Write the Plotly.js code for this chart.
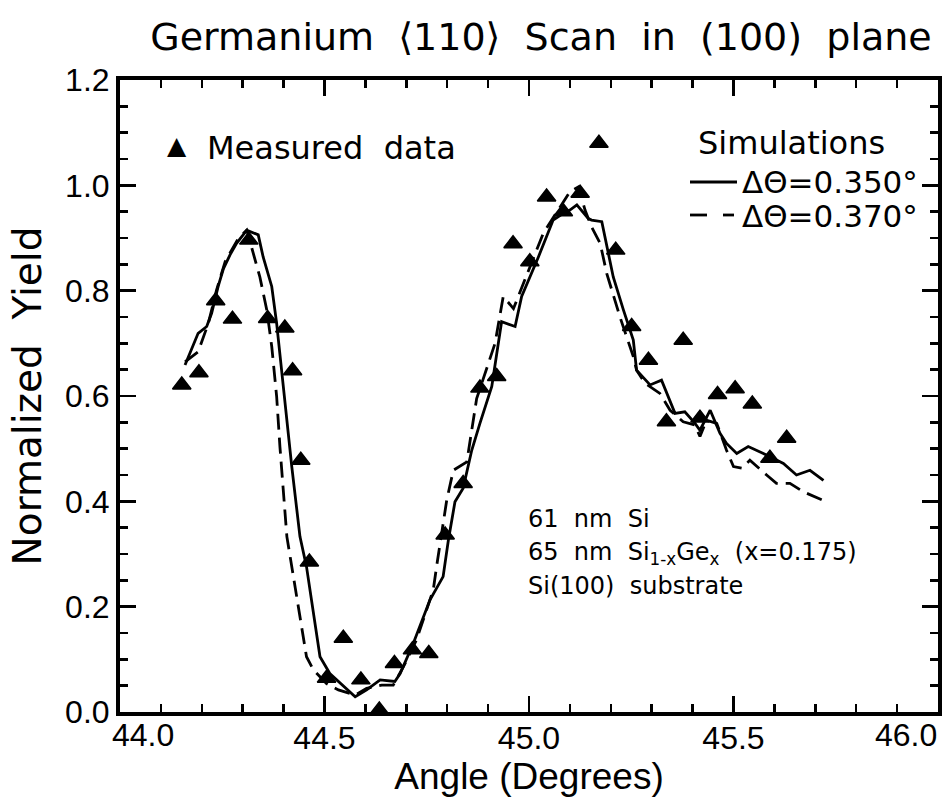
<!DOCTYPE html>
<html>
<head>
<meta charset="utf-8">
<script src="https://cdn.plot.ly/plotly-3.0.1.min.js"></script>
<style>
  html, body { margin: 0; padding: 0; background: #fff; }
  #chart { width: 948px; height: 798px; }
</style>
</head>
<body>
<div id="chart"></div>
<script>
// Measured channeling yield, Ge <110> scan in the (100) plane
const measAngle = [44.151, 44.193, 44.234, 44.275, 44.315, 44.361, 44.403, 44.422, 44.442, 44.463,
                   44.505, 44.546, 44.589, 44.634, 44.671, 44.715, 44.755, 44.795, 44.839, 44.880,
                   44.921, 44.961, 45.002, 45.043, 45.084, 45.125, 45.171, 45.212, 45.251, 45.292,
                   45.336, 45.377, 45.418, 45.461, 45.504, 45.546, 45.589, 45.630];
const measYield = [0.621, 0.644, 0.781, 0.746, 0.896, 0.747, 0.729, 0.648, 0.478, 0.285,
                   0.064, 0.140, 0.061, 0.004, 0.092, 0.118, 0.111, 0.336, 0.434, 0.615,
                   0.637, 0.889, 0.855, 0.978, 0.950, 0.985, 1.080, 0.877, 0.732, 0.668,
                   0.551, 0.706, 0.558, 0.603, 0.614, 0.585, 0.482, 0.520];

// Simulation, delta theta = 0.350 deg (solid)
const sim350Angle = [44.159, 44.191, 44.212, 44.224, 44.240, 44.253, 44.269, 44.285, 44.310, 44.338,
                     44.350, 44.371, 44.383, 44.395, 44.408, 44.420, 44.440, 44.456, 44.489, 44.513,
                     44.575, 44.603, 44.636, 44.672, 44.685, 44.717, 44.758, 44.790, 44.803, 44.819,
                     44.839, 44.860, 44.880, 44.909, 44.933, 44.966, 44.982, 45.023, 45.059, 45.084,
                     45.100, 45.117, 45.145, 45.153, 45.178, 45.190, 45.206, 45.231, 45.255, 45.263,
                     45.296, 45.324, 45.357, 45.381, 45.406, 45.418, 45.443, 45.467, 45.483, 45.508,
                     45.536, 45.573, 45.622, 45.654, 45.687, 45.720];
const sim350Yield = [0.659, 0.719, 0.732, 0.757, 0.808, 0.842, 0.868, 0.890, 0.915, 0.906,
                     0.864, 0.808, 0.738, 0.650, 0.561, 0.466, 0.333, 0.276, 0.105, 0.073,
                     0.029, 0.042, 0.061, 0.058, 0.073, 0.130, 0.213, 0.257, 0.327, 0.399,
                     0.425, 0.497, 0.548, 0.618, 0.741, 0.732, 0.789, 0.864, 0.934, 0.947,
                     0.953, 0.963, 0.937, 0.934, 0.931, 0.883, 0.826, 0.763, 0.706, 0.649,
                     0.621, 0.630, 0.567, 0.570, 0.548, 0.535, 0.573, 0.529, 0.510, 0.491,
                     0.504, 0.491, 0.472, 0.450, 0.459, 0.440];

// Simulation, delta theta = 0.370 deg (dashed)
const sim370Angle = [44.159, 44.191, 44.216, 44.236, 44.257, 44.269, 44.289, 44.310, 44.326, 44.342,
                     44.359, 44.371, 44.383, 44.391, 44.408, 44.440, 44.456, 44.473, 44.505, 44.534,
                     44.575, 44.603, 44.640, 44.668, 44.693, 44.725, 44.766, 44.774, 44.799, 44.815,
                     44.848, 44.872, 44.917, 44.937, 44.962, 45.035, 45.076, 45.100, 45.121, 45.137,
                     45.153, 45.174, 45.190, 45.222, 45.255, 45.263, 45.284, 45.320, 45.345, 45.377,
                     45.406, 45.418, 45.434, 45.459, 45.483, 45.500, 45.520, 45.540, 45.581, 45.605,
                     45.638, 45.671, 45.716];
const sim370Yield = [0.665, 0.684, 0.738, 0.801, 0.855, 0.871, 0.899, 0.915, 0.871, 0.826,
                     0.763, 0.694, 0.599, 0.504, 0.333, 0.175, 0.105, 0.080, 0.054, 0.042,
                     0.032, 0.045, 0.051, 0.051, 0.086, 0.137, 0.232, 0.276, 0.403, 0.459,
                     0.475, 0.595, 0.700, 0.789, 0.766, 0.909, 0.960, 0.988, 0.997, 0.953,
                     0.921, 0.890, 0.833, 0.751, 0.675, 0.649, 0.624, 0.605, 0.573, 0.551,
                     0.545, 0.523, 0.554, 0.548, 0.497, 0.466, 0.463, 0.478, 0.450, 0.434,
                     0.434, 0.418, 0.403];

// inner x labels come from the axis; the two end labels sit just inside the frame
const xTickVals = [44.5, 45.0, 45.5];
const xTickText = ['44.5', '45.0', '45.5'];
const xEdgeVals = [44.0, 46.0];
const xEdgeLabels = ['44.0', '46.0'];

const titleText = 'Germanium\u00a0\u00a0\u27e8110\u27e9\u00a0\u00a0Scan\u00a0\u00a0in\u00a0\u00a0(100)\u00a0\u00a0plane';
const legendMeasured = 'Measured\u00a0\u00a0data';
const legendSimTitle = 'Simulations';
const legendSim350 = '\u0394\u0398=0.350\u00b0';
const legendSim370 = '\u0394\u0398=0.370\u00b0';
const sampleLines = [
  '61\u00a0\u00a0nm\u00a0\u00a0Si',
  '65\u00a0\u00a0nm\u00a0\u00a0Si<sub>1-x</sub>Ge<sub>x</sub>\u00a0\u00a0(x=0.175)',
  'Si(100)\u00a0\u00a0substrate'
];

// plot-area geometry (px) used for placing the key and notes
const M = {l: 120, r: 10, t: 80, b: 86};
const W = 948, H = 798;
const PW = W - M.l - M.r, PH = H - M.t - M.b;
const px = v => (v - M.l) / PW;          // page x -> paper x
const py = v => (H - M.b - v) / PH;      // page y -> paper y

const GEO = 'DejaVu Sans';
const HEL = 'Liberation Sans';
const LW = 2.8;

const traces = [
  {
    x: sim370Angle, y: sim370Yield, type: 'scatter', mode: 'lines',
    line: {color: '#000', width: LW, dash: '16px,8px'}, hoverinfo: 'skip'
  },
  {
    x: sim350Angle, y: sim350Yield, type: 'scatter', mode: 'lines',
    line: {color: '#000', width: LW}, hoverinfo: 'skip'
  },
  {
    x: measAngle, y: measYield, type: 'scatter', mode: 'markers',
    marker: {symbol: 'triangle-up', size: 16, color: '#000', line: {color: '#000', width: 1.5}}
  }
];

const axisCommon = {
  showline: true, linecolor: '#000', linewidth: 4, mirror: 'ticks',
  ticks: 'inside', ticklen: 16, tickwidth: 2.5, tickcolor: '#000',
  showgrid: false, zeroline: false,
  tickfont: {family: HEL, size: 32, color: '#000'}
};

const annotations = [
  {xref: 'x', yref: 'paper', x: xEdgeVals[0], y: 0, xshift: 23, yshift: -3,
   xanchor: 'center', yanchor: 'top', showarrow: false, text: xEdgeLabels[0],
   font: {family: HEL, size: 32, color: '#000'}},
  {xref: 'x', yref: 'paper', x: xEdgeVals[1], y: 0, xshift: -32, yshift: -3,
   xanchor: 'center', yanchor: 'top', showarrow: false, text: xEdgeLabels[1],
   font: {family: HEL, size: 32, color: '#000'}},
  // key for the measured points
  {xref: 'paper', yref: 'paper', x: px(177), y: py(145), xanchor: 'center', yanchor: 'middle',
   showarrow: false, text: '\u25b2', font: {family: GEO, size: 25, color: '#000'}},
  {xref: 'paper', yref: 'paper', x: px(205), y: py(148), xanchor: 'left', yanchor: 'middle',
   showarrow: false, text: legendMeasured, font: {family: GEO, size: 32, color: '#000'}},
  // key for the simulations
  {xref: 'paper', yref: 'paper', x: px(696), y: py(143), xanchor: 'left', yanchor: 'middle',
   showarrow: false, text: legendSimTitle, font: {family: GEO, size: 32, color: '#000'}},
  {xref: 'paper', yref: 'paper', x: px(740), y: py(182), xanchor: 'left', yanchor: 'middle',
   showarrow: false, text: legendSim350, font: {family: GEO, size: 31, color: '#000'}},
  {xref: 'paper', yref: 'paper', x: px(740), y: py(216), xanchor: 'left', yanchor: 'middle',
   showarrow: false, text: legendSim370, font: {family: GEO, size: 31, color: '#000'}}
];

// sample structure notes
const noteY = [519, 553, 586];
sampleLines.forEach((t, i) => {
  annotations.push({xref: 'paper', yref: 'paper', x: px(526), y: py(noteY[i]),
    xanchor: 'left', yanchor: 'middle', showarrow: false, text: t,
    font: {family: GEO, size: 24, color: '#000'}});
});

const shapes = [
  {type: 'line', xref: 'paper', yref: 'paper', x0: px(690), x1: px(737), y0: py(182), y1: py(182),
   line: {color: '#000', width: LW}},
  {type: 'line', xref: 'paper', yref: 'paper', x0: px(690), x1: px(707), y0: py(215), y1: py(215),
   line: {color: '#000', width: LW}},
  {type: 'line', xref: 'paper', yref: 'paper', x0: px(723), x1: px(734), y0: py(215), y1: py(215),
   line: {color: '#000', width: LW}}
];

const layout = {
  width: W, height: H,
  margin: M,
  paper_bgcolor: '#fff', plot_bgcolor: '#fff',
  showlegend: false,
  title: {
    text: titleText, xref: 'container', yref: 'container',
    x: 541 / W, y: 1 - 37 / H, xanchor: 'center', yanchor: 'middle',
    font: {family: GEO, size: 38, color: '#000'}
  },
  xaxis: Object.assign({}, axisCommon, {
    range: [44, 46], tickmode: 'array', tickvals: xTickVals, ticktext: xTickText,
    ticklabelstandoff: -5,
    minor: {tickmode: 'linear', tick0: 44, dtick: 0.1, ticks: 'inside', ticklen: 8,
            tickwidth: 2.5, tickcolor: '#000', showgrid: false},
    title: {text: 'Angle (Degrees)', font: {family: HEL, size: 37, color: '#000'}, standoff: 8}
  }),
  yaxis: Object.assign({}, axisCommon, {
    range: [0, 1.2], tickmode: 'linear', tick0: 0, dtick: 0.2, tickformat: '.1f',
    minor: {tickmode: 'linear', tick0: 0, dtick: 0.05, ticks: 'inside', ticklen: 8,
            tickwidth: 2.5, tickcolor: '#000', showgrid: false},
    title: {text: 'Normalized\u00a0\u00a0Yield', font: {family: GEO, size: 39, color: '#000'}, standoff: 12}
  }),
  annotations: annotations,
  shapes: shapes
};

Plotly.newPlot('chart', traces, layout, {displayModeBar: false, staticPlot: true});
</script>
</body>
</html>
